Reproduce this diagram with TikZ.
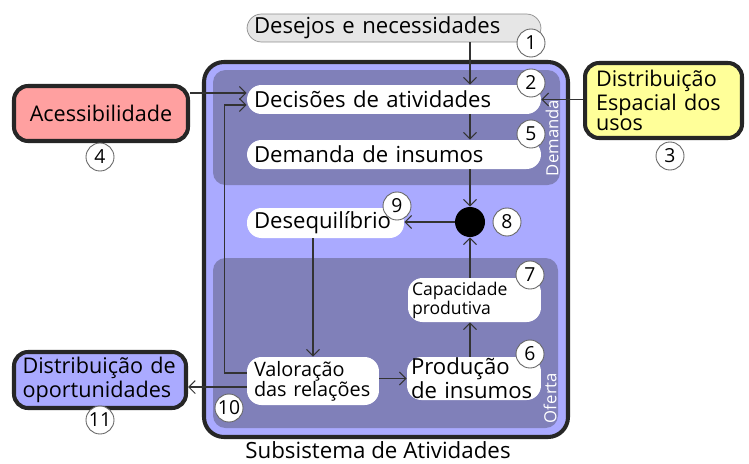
\documentclass[tikz,border=0pt]{standalone}
\usepackage{fontspec}
\setmainfont{Open Sans}
\usetikzlibrary{arrows.meta}
\definecolor{sysfill}{RGB}{170,170,255}
\definecolor{subfill}{RGB}{128,128,185}
\definecolor{accfill}{RGB}{255,160,160}
\definecolor{usofill}{RGB}{255,255,153}
\definecolor{desfill}{RGB}{230,230,230}

\begin{document}
\begin{tikzpicture}[x=0.02cm,y=-0.02cm,
    >={Straight Barb[length=1.3mm,width=2.6mm]},
    link/.style={->, line width=0.6pt, draw=black!80},
    pill/.style={fill=white, draw=none, rounded corners=0.29cm,
        inner xsep=0.14cm, inner ysep=0pt, align=left,
        font=\fontsize{12.6}{12.6}\selectfont},
    outbox/.style={draw=black!85, line width=2.3pt, rounded corners=0.28cm,
        inner xsep=0.16cm, inner ysep=0pt,
        font=\fontsize{12.3}{11.5}\selectfont},
    num/.style={circle, draw=black!60, fill=white, line width=0.5pt,
        minimum size=0.56cm, inner sep=0pt, font=\fontsize{11}{11}\selectfont},
    side/.style={rotate=90, text=white, font=\fontsize{9.5}{9.5}\selectfont}]

    \useasboundingbox (0,0) rectangle (749,463);

    % Subsistema
    \draw[line width=2.3pt, draw=black!85, fill=sysfill, rounded corners=0.4cm]
        (204,62) rectangle (568,437);
    \fill[subfill, rounded corners=0.25cm] (213,70) rectangle (560,185);
    \fill[subfill, rounded corners=0.25cm] (213,258) rectangle (558,428);
    \node[side] (lbldem) at (552,138) {Demanda};
    \node[side] (lblofe) at (550,398) {Oferta};
    \node[font=\fontsize{12.7}{12.7}\selectfont] (lblsub) at (378,450) {Subsistema de Atividades};

    % Caixas
    \node[pill, draw=black!45, fill=desfill, minimum height=0.56cm, text width=5.6cm] (desejos) at (394,28) {Desejos e necessidades};
    \node[pill, minimum height=0.58cm, text width=5.6cm] (decisoes) at (394,99.5) {Decisões de atividades};
    \node[pill, minimum height=0.58cm, text width=5.6cm] (demanda) at (394,154.5) {Demanda de insumos};
    \node[pill, minimum height=0.6cm, text width=2.86cm] (deseq) at (325.5,223) {Desequilíbrio};
    \node[pill, minimum height=0.88cm, text width=2.5cm, inner xsep=0.08cm,
        font=\fontsize{10}{10.8}\selectfont] (capac) at (474.5,300) {Capacidade\\produtiva};
    \node[pill, minimum height=0.86cm, text width=2.52cm, inner xsep=0.08cm,
        font=\fontsize{12.6}{10}\selectfont] (producao) at (474,378.5) {Produção\\de insumos};
    \node[pill, minimum height=0.96cm, text width=2.36cm, font=\fontsize{11.3}{11.3}\selectfont] (valor) at (313,381) {Valoração\\das relações};
    \fill (470,222) circle (15);
    \coordinate (dot) at (470,222);
    \node[circle, minimum size=0.6cm, inner sep=0pt] (dotn) at (dot) {};

    \node[outbox, fill=accfill, minimum width=3.48cm, minimum height=1.1cm] (acess) at (101,113.5) {Acessibilidade};
    \node[outbox, fill=usofill, minimum width=3.14cm, minimum height=1.5cm, text width=2.7cm, align=left] (espacial) at (663.5,100.5) {Distribuição\\Espacial dos\\usos};
    \node[outbox, fill=sysfill, minimum width=3.44cm, minimum height=1.12cm, text width=3.1cm, align=left] (oport) at (100,380) {Distribuição de\\oportunidades};

    % Numeros
    \node[num] (n1) at (531,43) {1};
    \node[num] (n2) at (531,83) {2};
    \node[num] (n3) at (670,156) {3};
    \node[num] (n4) at (100,157) {4};
    \node[num] (n5) at (531,134) {5};
    \node[num] (n6) at (530,354) {6};
    \node[num] (n7) at (530,275) {7};
    \node[num] (n8) at (507,222) {8};
    \node[num] (n9) at (397,206) {9};
    \node[num] (n10) at (229,408) {10};
    \node[num] (n11) at (100,420) {11};

    % Setas
    \coordinate (inA) at ([yshift=0.13cm]decisoes.west);
    \coordinate (inB) at ([yshift=-0.11cm]decisoes.west);
    \coordinate (outV) at ([yshift=-0.12cm]valor.west);
    \draw[link] (desejos.south -| dot) -- (decisoes.north -| dot);
    \draw[link] (acess.east |- inA) -- (inA);
    \draw[link] ([yshift=0.16cm]valor.west) -- ++(-22,0) |- (inB);
    \draw[link] (espacial.west |- decisoes.east) -- (decisoes.east);
    \draw[link] (decisoes.south -| dot) -- (demanda.north -| dot);
    \draw[link] (demanda.south -| dot) -- (dotn.north);
    \draw[link] (dotn.west) -- (deseq.east |- dot);
    \draw[link] (capac.north -| dot) -- (dotn.south);
    \draw[link] (producao.north -| dot) -- (capac.south -| dot);
    \draw[link] (deseq.south -| valor.north) -- (valor.north);
    \draw[link] (valor.east |- producao.west) -- (producao.west);
    \draw[link] (outV) -- (oport.east |- outV);

\end{tikzpicture}
\end{document}
